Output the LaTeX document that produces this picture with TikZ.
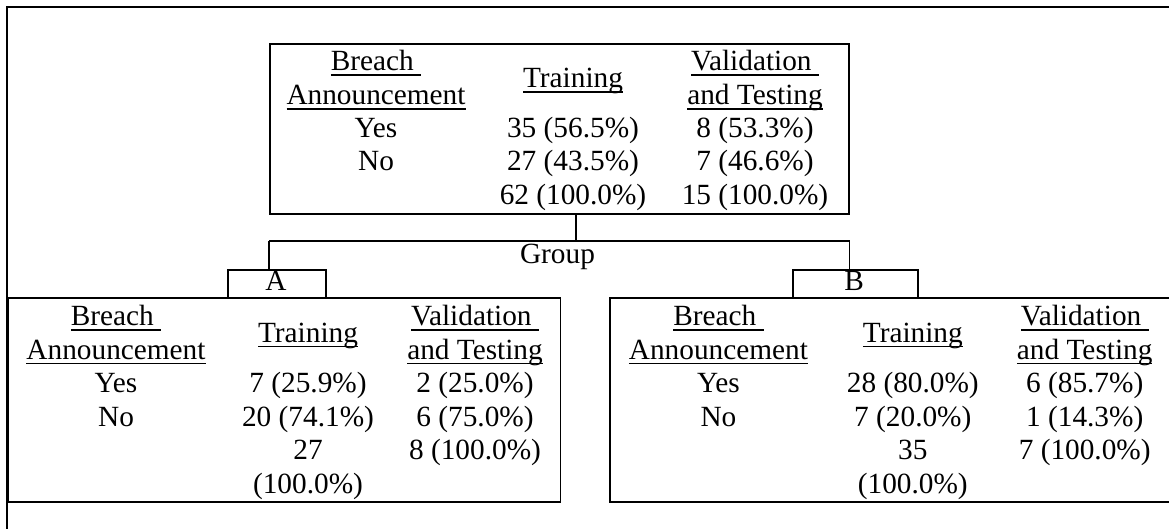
\documentclass[tikz,border=0pt]{standalone}
\usepackage{fontspec}
\setmainfont{Liberation Serif}
\newsavebox\ulbox
\newcommand{\ulined}[1]{\sbox\ulbox{#1}\rlap{\vrule height -3.5pt depth 5.4pt width \wd\ulbox}\usebox\ulbox}
\begin{document}
\begin{tikzpicture}[x=1pt, y=-1pt, line width=1.8pt,
  box/.style={draw, inner sep=0pt, anchor=north west},
  cell/.style={anchor=base, inner sep=0pt},
  font=\fontsize{29.3}{33.5}\selectfont]
  \useasboundingbox (0,0) rectangle (1169,529);
  \clip (0,0) rectangle (1169,529);
  % frame, only its top and left edges are in view
  \draw (1180,7.3) -- (6.7,7.3) -- (6.7,540);

  % all cases
  \node[box, minimum width=578.4pt, minimum height=170pt] (root) at (269.3,43.3) {};
  \node[cell] (root-h1) at (376,70.8) {\ulined{Breach~}};
  \node[cell] (root-h2) at (376,104.2) {\ulined{Announcement}};
  \node[cell] (root-yes) at (376,137.6) {Yes};
  \node[cell] (root-no) at (376,171) {No};
  \node[cell] (root-tr) at (573,87.5) {\ulined{Training}};
  \node[cell] (root-v1) at (755,70.8) {\ulined{Validation~}};
  \node[cell] (root-v2) at (755,104.2) {\ulined{and Testing}};
  \foreach \t [count=\i from 0] in {{35 (56.5\%)},{27 (43.5\%)},{62 (100.0\%)}}
    \node[cell] (root-tr-\i) at (573,137.6+33.4*\i) {\t};
  \foreach \t [count=\i from 0] in {{8 (53.3\%)},{7 (46.6\%)},{15 (100.0\%)}}
    \node[cell] (root-vt-\i) at (755,137.6+33.4*\i) {\t};

  % split on group
  \coordinate (stem) at (576,241);
  \node[cell] (group) at (557.5,263) {Group};
  \coordinate (gl) at (root.west |- stem);
  \coordinate (gr) at (root.east |- stem);

  % group A
  \node[box, minimum width=98.3pt, minimum height=28pt] (boxA) at (226.7,269) {};
  \node[cell] (labA) at (276,290) {A};
  \node[box, minimum width=552.8pt, minimum height=203.7pt] (tabA) at (6.7,297) {};
  \node[cell] (tabA-h1) at (116,325.5) {\ulined{Breach~}};
  \node[cell] (tabA-h2) at (116,359) {\ulined{Announcement}};
  \node[cell] (tabA-yes) at (116,392.5) {Yes};
  \node[cell] (tabA-no) at (116,426) {No};
  \node[cell] (tabA-tr) at (308,342) {\ulined{Training}};
  \node[cell] (tabA-v1) at (475,325.5) {\ulined{Validation~}};
  \node[cell] (tabA-v2) at (475,359) {\ulined{and Testing}};
  \foreach \t [count=\i from 0] in {{7 (25.9\%)},{20 (74.1\%)},{27},{(100.0\%)}}
    \node[cell] (tabA-tr-\i) at (308,392.5+33.5*\i) {\t};
  \foreach \t [count=\i from 0] in {{2 (25.0\%)},{6 (75.0\%)},{8 (100.0\%)}}
    \node[cell] (tabA-vt-\i) at (475,392.5+33.5*\i) {\t};

  % group B
  \node[box, minimum width=125pt, minimum height=28pt] (boxB) at (791.7,269) {};
  \node[cell] (labB) at (854.2,290) {B};
  \node[box, minimum width=600pt, minimum height=203.7pt] (tabB) at (609,297) {};
  \node[cell] (tabB-h1) at (718.4,325.5) {\ulined{Breach~}};
  \node[cell] (tabB-h2) at (718.4,359) {\ulined{Announcement}};
  \node[cell] (tabB-yes) at (718.4,392.5) {Yes};
  \node[cell] (tabB-no) at (718.4,426) {No};
  \node[cell] (tabB-tr) at (912.8,342) {\ulined{Training}};
  \node[cell] (tabB-v1) at (1084.7,325.5) {\ulined{Validation~}};
  \node[cell] (tabB-v2) at (1084.7,359) {\ulined{and Testing}};
  \foreach \t [count=\i from 0] in {{28 (80.0\%)},{7 (20.0\%)},{35},{(100.0\%)}}
    \node[cell] (tabB-tr-\i) at (912.8,392.5+33.5*\i) {\t};
  \foreach \t [count=\i from 0] in {{6 (85.7\%)},{1 (14.3\%)},{7 (100.0\%)}}
    \node[cell] (tabB-vt-\i) at (1084.7,392.5+33.5*\i) {\t};

  % connectors
  \draw (root.south -| stem) -- (stem);
  \draw (gl) -- (gr);
  \draw (gl) -- (gl |- boxA.north);
  \draw (gr) -- (gr |- boxB.north);
\end{tikzpicture}
\end{document}
